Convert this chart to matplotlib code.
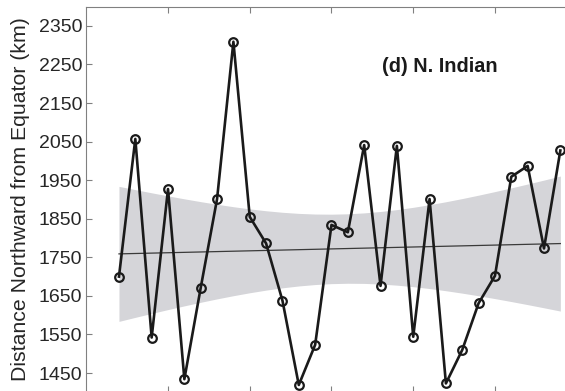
import numpy as np
import matplotlib
matplotlib.use("Agg")
import matplotlib.pyplot as plt

# Annual mean latitude distance of tropical cyclone LMI, North Indian basin
YEARS = np.arange(1982, 2010)
DIST_KM = [1700, 2057, 1542, 1927, 1434, 1671, 1901, 2309, 1855, 1786,
           1638, 1419, 1523, 1834, 1815, 2041, 1676, 2039, 1544, 1901,
           1423, 1510, 1631, 1702, 1959, 1987, 1773, 2027]
Y_TICKS = [1450, 1550, 1650, 1750, 1850, 1950, 2050, 2150, 2250, 2350]
X_TICKS = [1985, 1990, 1995, 2000, 2005]
PANEL_LABEL = "(d) N. Indian"

T_95 = 2.056  # two-sided 95% t value, 26 degrees of freedom

plt.rcParams["font.family"] = ["Liberation Sans", "DejaVu Sans"]


def linear_fit_with_ci(x, y):
    """Least-squares line and 95% confidence band of the mean response."""
    x = np.asarray(x, dtype=float)
    y = np.asarray(y, dtype=float)
    n = len(x)
    slope, intercept = np.polyfit(x, y, 1)
    fit = slope * x + intercept
    s = np.sqrt(np.sum((y - fit) ** 2) / (n - 2))
    sxx = np.sum((x - x.mean()) ** 2)
    half = T_95 * s * np.sqrt(1.0 / n + (x - x.mean()) ** 2 / sxx)
    return fit, fit - half, fit + half


fit, lo, hi = linear_fit_with_ci(YEARS, DIST_KM)

fig = plt.figure(figsize=(5.65, 3.91), dpi=100)
ax = fig.add_axes([0.1527, -0.0033, 0.868, 0.9863])

ax.fill_between(YEARS, lo, hi, color="#d5d5d9", lw=0, zorder=1)
ax.plot(YEARS, fit, color="#3a3a3a", lw=0.9, zorder=2)
ax.plot(YEARS, DIST_KM, color="#1a1a1a", lw=1.9, marker="o",
        markersize=6.2, markerfacecolor="none", markeredgecolor="#1a1a1a",
        markeredgewidth=1.6, zorder=3)

ax.text(1998.1, 2246, PANEL_LABEL, fontsize=14.3, fontweight="bold",
        ha="left", va="center", color="#1a1a1a")

ax.set_xlim(1980, 2010)
ax.set_ylim(1400, 2400)
ax.set_xticks(X_TICKS)
ax.set_xticklabels([])
ax.set_yticks(Y_TICKS)
ax.tick_params(axis="both", direction="in", length=4, width=0.8,
               color="#808080", labelsize=14, labelcolor="#262626",
               top=True, right=True, pad=3)
for sp in ax.spines.values():
    sp.set_color("#808080")
    sp.set_linewidth(0.8)

ax.set_ylabel("Distance Northward from Equator (km)", fontsize=15.3,
              color="#262626", labelpad=6)

fig.savefig("out.png", dpi=100)
